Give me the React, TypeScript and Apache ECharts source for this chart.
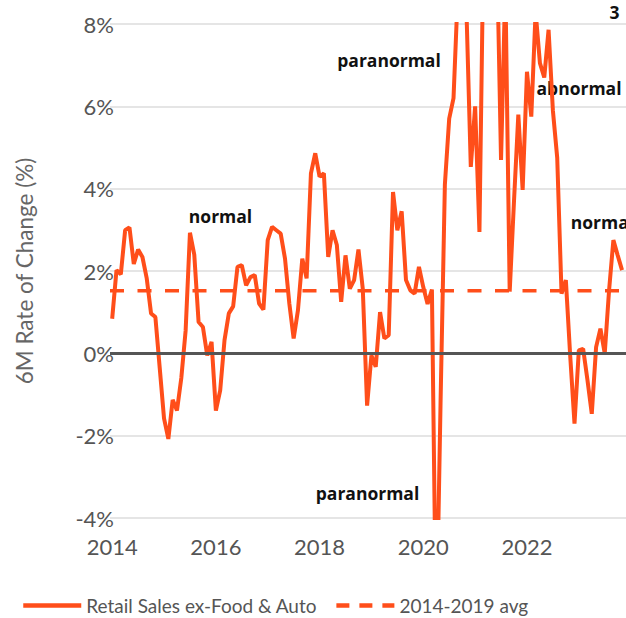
import React, { useEffect, useRef } from "react";
import * as echarts from "echarts";

const START_YEAR = 2014;
const SERIES_NAME = "Retail Sales ex-Food & Auto";
const AVG_NAME = "2014-2019 avg";
// monthly 6M rate of change (%), Jan 2014 onward
const RETAIL_SALES_6M = [
  0.84, 2.02, 1.92, 2.99, 3.06, 2.17, 2.52, 2.34, 1.82, 0.97, 0.88, -0.35,
  -1.58, -2.08, -1.13, -1.39, -0.6, 0.55, 2.93, 2.4, 0.76, 0.64, -0.05, 0.28,
  -1.39, -0.9, 0.32, 0.97, 1.14, 2.1, 2.14, 1.65, 1.85, 1.9, 1.21, 1.06,
  2.75, 3.07, 2.99, 2.91, 2.3, 1.21, 0.36, 1.05, 2.3, 1.82, 4.37, 4.86,
  4.29, 4.37, 2.34, 2.99, 2.63, 1.25, 2.38, 1.57, 1.78, 2.52, 1.57, -1.27,
  -0.05, -0.33, 1.0, 0.36, 0.44, 3.92, 2.99, 3.45, 1.78, 1.53, 1.45, 2.1,
  1.61, 1.2, 1.55, -7.0, -1.2, 4.1, 5.7, 6.2, 8.8, 11.0, 8.3, 4.53,
  6.0, 2.95, 10.5, 12.0, 11.5, 10.0, 4.7, 9.0, 1.5, 3.7, 5.8, 3.97,
  6.84, 5.75, 8.3, 7.05, 6.7, 7.86, 5.9, 4.75, 1.45, 1.78, -0.05, -1.71,
  0.07, 0.11, -0.65, -1.47, 0.15, 0.6, 0.0, 1.53, 2.75, 2.38, 2.02,
];
const AVG_2014_2019 = 1.52;
const X_TICKS = [2014, 2016, 2018, 2020, 2022];
const X_MIN = 2013.958;
const X_MAX = 2024.18;
const Y_MIN = -4;
const Y_MAX = 8;
const Y_STEP = 2;

const ORANGE = "#ff4e1a";
const FONT = "Lato";
const BOLD_FONT = "'Open Sans'";

export default function App() {
  const ref = useRef<HTMLDivElement>(null);
  useEffect(() => {
    if (!ref.current) return;
    const chart = echarts.init(ref.current, null, { renderer: "svg" });
    const lineData = RETAIL_SALES_6M.map((v, i) => [START_YEAR + i / 12, v]);
    const avgData = [
      [X_MIN, AVG_2014_2019],
      [X_MAX, AVG_2014_2019],
    ];
    const boldText = (text: string, x: number, y: number, align = "center") => ({
      type: "text",
      x,
      y,
      silent: true,
      style: {
        text,
        fill: "#111",
        font: `bold 17.5px ${BOLD_FONT}`,
        align,
        verticalAlign: "middle",
      },
    });
    chart.setOption({
      animation: false,
      backgroundColor: "#fff",
      grid: { left: 110, top: 24, right: 60, bottom: 100, containLabel: false },
      xAxis: {
        type: "value",
        min: X_MIN,
        max: X_MAX,
        axisLine: { show: false },
        axisTick: { show: false },
        splitLine: { show: false },
        axisLabel: {
          customValues: X_TICKS,
          formatter: (v: number) => String(Math.round(v)),
          fontSize: 22,
          fontFamily: FONT,
          color: "#555",
          margin: 17,
        },
      },
      yAxis: {
        type: "value",
        min: Y_MIN,
        max: Y_MAX,
        interval: Y_STEP,
        name: "6M Rate of Change (%)",
        nameLocation: "middle",
        nameGap: 74,
        nameTextStyle: { fontSize: 22.5, fontFamily: FONT, color: "#666" },
        axisLine: { show: false },
        axisTick: { show: false },
        axisLabel: {
          formatter: (v: number) => `${v}%`,
          fontSize: 22,
          fontFamily: FONT,
          color: "#555",
          margin: -4,
        },
        splitLine: { lineStyle: { color: "#dcdcdc", width: 1.5 } },
      },
      legend: {
        left: 21,
        top: 596,
        padding: 0,
        itemWidth: 58,
        itemHeight: 14,
        itemGap: 17,
        itemStyle: { opacity: 0, borderWidth: 0 },
        textStyle: { fontSize: 19, fontFamily: FONT, color: "#555" },
        data: [
          { name: SERIES_NAME, lineStyle: { width: 4.5 } },
          { name: AVG_NAME, lineStyle: { width: 4.5, type: [13, 10] } },
        ],
      },
      series: [
        {
          name: AVG_NAME,
          type: "line",
          data: avgData,
          symbol: "none",
          silent: true,
          z: 2,
          lineStyle: { color: ORANGE, width: 3.5, type: [14, 13.5] },
          itemStyle: { color: ORANGE },
          markLine: {
            silent: true,
            symbol: "none",
            label: { show: false },
            lineStyle: { color: "#555", width: 3, type: "solid" },
            data: [{ yAxis: 0 }],
          },
        },
        {
          name: SERIES_NAME,
          type: "line",
          data: lineData,
          symbol: "none",
          clip: true,
          z: 3,
          lineStyle: { color: ORANGE, width: 4 },
          itemStyle: { color: ORANGE },
        },
      ],
      graphic: [
        boldText("normal", 220.5, 216),
        boldText("paranormal", 389, 60),
        boldText("abnormal", 579, 88),
        boldText("normal", 570.7, 222, "left"),
        boldText("paranormal", 367.5, 493),
        boldText("3", 614.5, 12),
      ],
    });
    return () => chart.dispose();
  }, []);
  return (
    <div
      style={{
        position: "fixed",
        left: 0,
        top: 0,
        width: 626,
        height: 618,
        overflow: "hidden",
        background: "#fff",
      }}
    >
      <div ref={ref} style={{ width: 700, height: 618 }} />
    </div>
  );
}
